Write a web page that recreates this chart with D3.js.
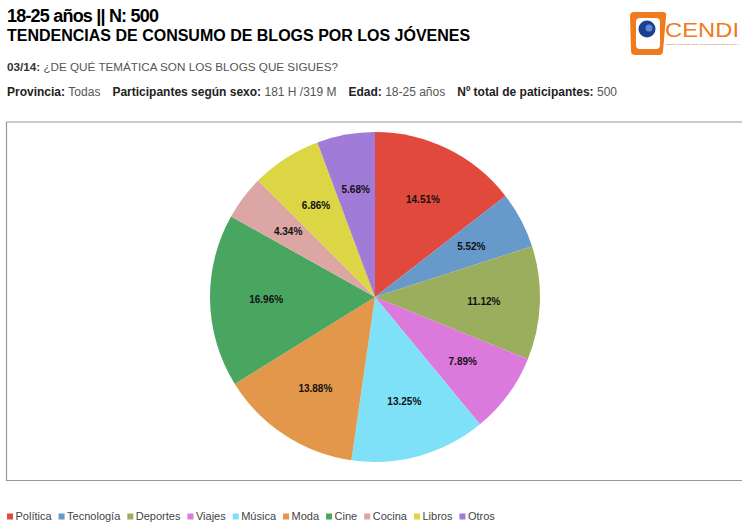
<!DOCTYPE html>
<html>
<head>
<meta charset="utf-8">
<script src="https://cdn.jsdelivr.net/npm/d3@7"></script>
<style>
body { margin: 0; background: #fff; }
svg { font-family: "Liberation Sans", Arial, Helvetica, sans-serif; }
</style>
</head>
<body>
<script>
var categories = ["Política", "Tecnología", "Deportes", "Viajes", "Música", "Moda", "Cine", "Cocina", "Libros", "Otros"];
var values = [14.51, 5.52, 11.12, 7.89, 13.25, 13.88, 16.96, 4.34, 6.86, 5.68];
var colors = ["#e2493d", "#6799cb", "#9aae5d", "#db79dc", "#7ee1f8", "#e3974b", "#49a661", "#dba6a4", "#dcd645", "#a07bd7"];

var w = 742, h = 522;
var cx = 375, cy = 297, r = 165;

var svg = d3.select("body").append("svg")
    .attr("width", w)
    .attr("height", h);

// header texts
svg.append("text").attr("x", 7).attr("y", 22)
    .style("font-size", "18px").style("font-weight", "bold").style("letter-spacing", "-0.8px")
    .text("18-25 años || N: 500");
svg.append("text").attr("x", 7).attr("y", 41)
    .style("font-size", "16px").style("font-weight", "bold")
    .text("TENDENCIAS DE CONSUMO DE BLOGS POR LOS JÓVENES");

var q = svg.append("text").attr("x", 7).attr("y", 71).style("font-size", "11.7px");
q.append("tspan").style("font-weight", "bold").attr("fill", "#333").text("03/14: ");
q.append("tspan").attr("fill", "#555").text("¿DE QUÉ TEMÁTICA SON LOS BLOGS QUE SIGUES?");

var info = [["Provincia: ", "Todas"], ["Participantes según sexo: ", "181 H /319 M"], ["Edad: ", "18-25 años"], ["Nº total de paticipantes: ", "500"]];
var it = svg.append("text").attr("x", 7).attr("y", 96).style("font-size", "12px");
info.forEach(function(d, i) {
    it.append("tspan").style("font-weight", "bold").attr("fill", "#222").attr("dx", i ? 12 : 0).text(d[0]);
    it.append("tspan").attr("fill", "#555").text(d[1]);
});

// logo
var logo = svg.append("g").attr("transform", "translate(630,12)");
logo.append("path").attr("d", "M4,0 H33 Q37,0 36,5 L33,39 Q33,43 29,43 H5 Q1,43 1,39 L0,4 Q0,0 4,0 Z")
    .attr("fill", "#f07a1e");
logo.append("rect").attr("x", 6).attr("y", 6).attr("width", 24).attr("height", 31).attr("rx", 4)
    .attr("fill", "#fff");
logo.append("circle").attr("cx", 17).attr("cy", 17).attr("r", 8.5).attr("fill", "#1c3f8f");
logo.append("circle").attr("cx", 19).attr("cy", 16).attr("r", 3.5).attr("fill", "#5c8ad6");
logo.append("text").attr("x", 35).attr("y", 25).attr("fill", "#f07a1e")
    .attr("textLength", 74).attr("lengthAdjust", "spacingAndGlyphs")
    .style("font-size", "21px").text("CENDI");
logo.append("text").attr("x", 36).attr("y", 33).attr("fill", "#c06a2a")
    .style("font-size", "2.5px").text("OBSERVATORIO DEL OCIO Y EL ENTRETENIMIENTO DIGITAL");

// frame
svg.append("path")
    .attr("d", "M750,122 H6.5 V480.5 H750")
    .attr("fill", "none").attr("stroke", "#999").attr("stroke-width", 1.2);

// pie
var pie = d3.pie().sort(null).value(function(d) { return d; });
var arcs = pie(values);
var arc = d3.arc().innerRadius(0).outerRadius(r);
var labelArc = d3.arc().innerRadius(r * 0.66).outerRadius(r * 0.66);

var g = svg.append("g").attr("transform", "translate(" + cx + "," + cy + ")");
g.selectAll("path.slice")
    .data(arcs)
    .enter()
    .append("path")
    .attr("class", "slice")
    .attr("d", arc)
    .attr("fill", function(d, i) { return colors[i]; });

g.selectAll("text.lbl")
    .data(arcs)
    .enter()
    .append("text")
    .attr("class", "lbl")
    .attr("transform", function(d) { return "translate(" + labelArc.centroid(d) + ")"; })
    .attr("text-anchor", "middle")
    .attr("dy", "0.35em")
    .style("font-size", "10px")
    .style("font-weight", "bold")
    .attr("fill", "#111")
    .text(function(d) { return d.data.toFixed(2) + "%"; });

// legend
var legend = svg.append("g").attr("transform", "translate(7,520)");
var lx = 0;
categories.forEach(function(c, i) {
    var item = legend.append("g").attr("transform", "translate(" + lx + ",0)");
    item.append("rect").attr("x", 0).attr("y", -6.5).attr("width", 6).attr("height", 6).attr("fill", colors[i]);
    var t = item.append("text").attr("x", 8.5).attr("y", 0)
        .style("font-size", "11px").attr("fill", "#444").text(c);
    lx += 8.5 + t.node().getComputedTextLength() + 7;
});
</script>
</body>
</html>
